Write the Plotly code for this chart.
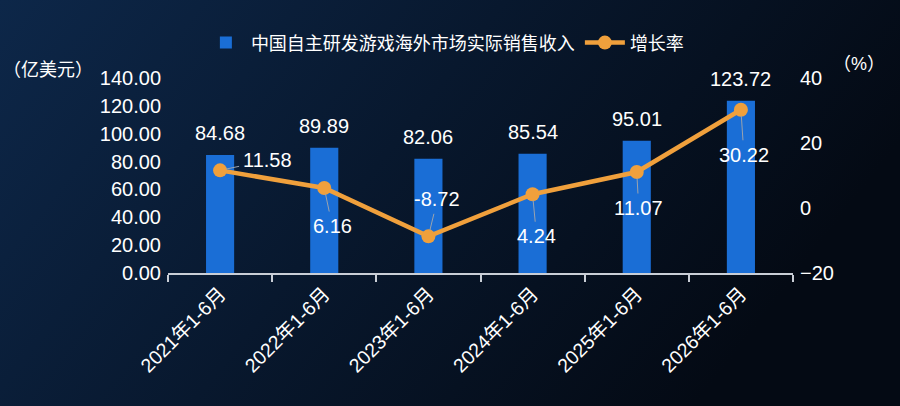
import base64
import plotly.graph_objects as go

# 数据
periods = ['2021年1-6月', '2022年1-6月', '2023年1-6月', '2024年1-6月', '2025年1-6月', '2026年1-6月']
revenue = [84.68, 89.89, 82.06, 85.54, 95.01, 123.72]
growth = [11.58, 6.16, -8.72, 4.24, 11.07, 30.22]
growth_text = ['11.58', '6.16', '-8.72', '4.24', '11.07', '30.22']

C_BAR = '#1a6ed6'
C_LINE = '#f0a03c'
C_TEXT = '#ffffff'
C_AXIS = '#c9ced6'
FONT = 'Liberation Sans, Noto Sans CJK SC, sans-serif'

# 背景渐变（SVG data uri）
svg = """<svg xmlns='http://www.w3.org/2000/svg' width='900' height='406'>
<defs><linearGradient id='g' x1='0' y1='0' x2='1' y2='0.35'>
<stop offset='0' stop-color='#0d2749'/>
<stop offset='0.5' stop-color='#08182e'/>
<stop offset='1' stop-color='#040a14'/>
</linearGradient></defs>
<rect width='900' height='406' fill='url(#g)'/></svg>"""
bg_src = 'data:image/svg+xml;base64,' + base64.b64encode(svg.encode()).decode()

fig = go.Figure()
fig.add_trace(go.Bar(
    name='中国自主研发游戏海外市场实际销售收入',
    x=periods, y=revenue,
    marker=dict(color=C_BAR, line=dict(width=0)), width=0.27,
))
fig.add_trace(go.Scatter(
    name='增长率',
    x=periods, y=growth, yaxis='y2',
    mode='lines+markers',
    line=dict(color=C_LINE, width=4.5),
    marker=dict(color=C_LINE, size=14),
))

# 柱子数值
for p, v in zip(periods, revenue):
    fig.add_annotation(x=p, y=v, text=f'{v:.2f}', showarrow=False,
                       yanchor='bottom', yshift=9,
                       font=dict(size=20, color=C_TEXT))

# 增长率标签（带引线）
offsets = [(47, -10), (8, 38), (9, -37), (4, 42), (2, 36), (3, 45)]
for p, g, t, (ax, ay) in zip(periods, growth, growth_text, offsets):
    fig.add_annotation(x=p, y=g, yref='y2', text=t,
                       showarrow=True, arrowhead=0, arrowwidth=1,
                       arrowcolor='#9aa3ae', ax=ax, ay=ay,
                       standoff=6, startstandoff=2,
                       font=dict(size=20, color=C_TEXT))

# 单位
fig.add_annotation(xref='paper', yref='paper', x=-0.2672, y=1.04,
                   xanchor='left', yanchor='middle', showarrow=False,
                   text='（亿美元）', font=dict(size=18, color=C_TEXT))
fig.add_annotation(xref='paper', yref='paper', x=1.06, y=1.07,
                   xanchor='left', yanchor='middle', showarrow=False,
                   text='（%）', font=dict(size=18, color=C_TEXT))

fig.add_layout_image(dict(source=bg_src, xref='paper', yref='paper',
                          x=-168 / 625, y=1 + 78 / 195,
                          sizex=900 / 625, sizey=406 / 195,
                          sizing='stretch', layer='below',
                          xanchor='left', yanchor='top'))

fig.update_layout(
    width=900, height=406,
    paper_bgcolor='#08182e',
    plot_bgcolor='rgba(0,0,0,0)',
    font=dict(family=FONT, color=C_TEXT, size=18),
    margin=dict(l=168, r=107, t=78, b=133),
    bargap=0.73,
    showlegend=True,
    legend=dict(orientation='h', x=0.443, xanchor='center',
                y=1.18, yanchor='middle',
                bgcolor='rgba(0,0,0,0)',
                font=dict(size=18, color=C_TEXT),
                itemwidth=40, tracegroupgap=0),
    xaxis=dict(showline=True, linecolor=C_AXIS, linewidth=2,
               ticks='outside', tickson='boundaries', ticklen=7,
               tickcolor=C_AXIS, tickwidth=2,
               tickangle=-45, tickfont=dict(size=19.5, color=C_TEXT),
               showgrid=False),
    yaxis=dict(range=[0, 140], dtick=20, tickformat='.2f',
               showgrid=False, zeroline=False, showline=False,
               ticklabelstandoff=6,
               tickfont=dict(size=20, color=C_TEXT)),
    yaxis2=dict(range=[-20, 40], dtick=20, overlaying='y', side='right',
                showgrid=False, zeroline=False, showline=False,
                ticklabelstandoff=6,
                tickfont=dict(size=20, color=C_TEXT)),
)

fig.write_html('out.html',
               config={'displayModeBar': False},
               post_script="document.body.style.margin='0';"
                           "document.body.style.background='#08182e';")
